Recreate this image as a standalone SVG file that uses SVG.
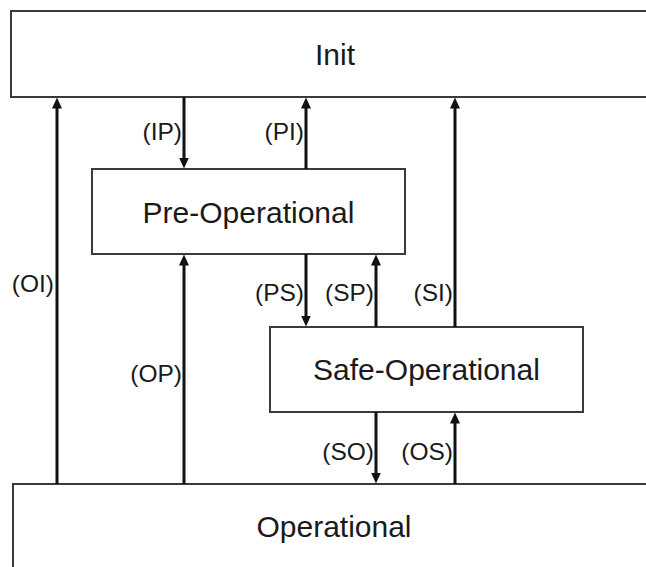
<svg xmlns="http://www.w3.org/2000/svg" width="646" height="567" viewBox="0 0 646 567">
  <style>
    .box { fill: #ffffff; stroke: #3a3a3a; stroke-width: 2; }
    .state { font-family: "Liberation Sans", Arial, sans-serif; font-size: 30px; fill: #1a1a1a; text-anchor: middle; }
    .edge { stroke: #111111; stroke-width: 3; fill: none; marker-end: url(#head); }
    .lbl { font-family: "Liberation Sans", Arial, sans-serif; font-size: 24.5px; fill: #1a1a1a; text-anchor: end; }
  </style>
  <defs>
    <marker id="head" viewBox="0 0 11 10" refX="0.5" refY="5" markerWidth="11" markerHeight="10" markerUnits="userSpaceOnUse" orient="auto">
      <path d="M0,0 L11,5 L0,10 z" fill="#111111"/>
    </marker>
  </defs>
  <rect width="646" height="567" fill="#ffffff"/>

  <g id="init">
    <rect class="box" x="11" y="11" width="650" height="86"/>
    <text class="state" x="335" y="65">Init</text>
  </g>

  <g id="preop">
    <rect class="box" x="92" y="169" width="313" height="85"/>
    <text class="state" x="248.5" y="223">Pre-Operational</text>
  </g>

  <g id="safeop">
    <rect class="box" x="270" y="327" width="313" height="85"/>
    <text class="state" x="426.5" y="380">Safe-Operational</text>
  </g>

  <g id="op">
    <rect class="box" x="13" y="484" width="650" height="100"/>
    <text class="state" x="334" y="537">Operational</text>
  </g>

  <g id="connectors">
    <!-- OI: Operational -> Init -->
    <line class="edge" x1="57" y1="484" x2="57" y2="108"/>
    <!-- IP: Init -> Pre-Operational -->
    <line class="edge" x1="184" y1="97" x2="184" y2="158"/>
    <!-- PI: Pre-Operational -> Init -->
    <line class="edge" x1="306" y1="169" x2="306" y2="108"/>
    <!-- SI: Safe-Operational -> Init -->
    <line class="edge" x1="455" y1="327" x2="455" y2="108"/>
    <!-- OP: Operational -> Pre-Operational -->
    <line class="edge" x1="184" y1="484" x2="184" y2="265"/>
    <!-- PS: Pre-Operational -> Safe-Operational -->
    <line class="edge" x1="306" y1="254" x2="306" y2="316"/>
    <!-- SP: Safe-Operational -> Pre-Operational -->
    <line class="edge" x1="376" y1="327" x2="376" y2="265"/>
    <!-- SO: Safe-Operational -> Operational -->
    <line class="edge" x1="376" y1="412" x2="376" y2="473"/>
    <!-- OS: Operational -> Safe-Operational -->
    <line class="edge" x1="455" y1="484" x2="455" y2="423"/>

    <text class="lbl" x="54" y="292">(OI)</text>
    <text class="lbl" x="182" y="140">(IP)</text>
    <text class="lbl" x="304" y="140">(PI)</text>
    <text class="lbl" x="453" y="301">(SI)</text>
    <text class="lbl" x="182" y="382">(OP)</text>
    <text class="lbl" x="304" y="301">(PS)</text>
    <text class="lbl" x="374" y="301">(SP)</text>
    <text class="lbl" x="374" y="460">(SO)</text>
    <text class="lbl" x="453" y="460">(OS)</text>
  </g>
</svg>
